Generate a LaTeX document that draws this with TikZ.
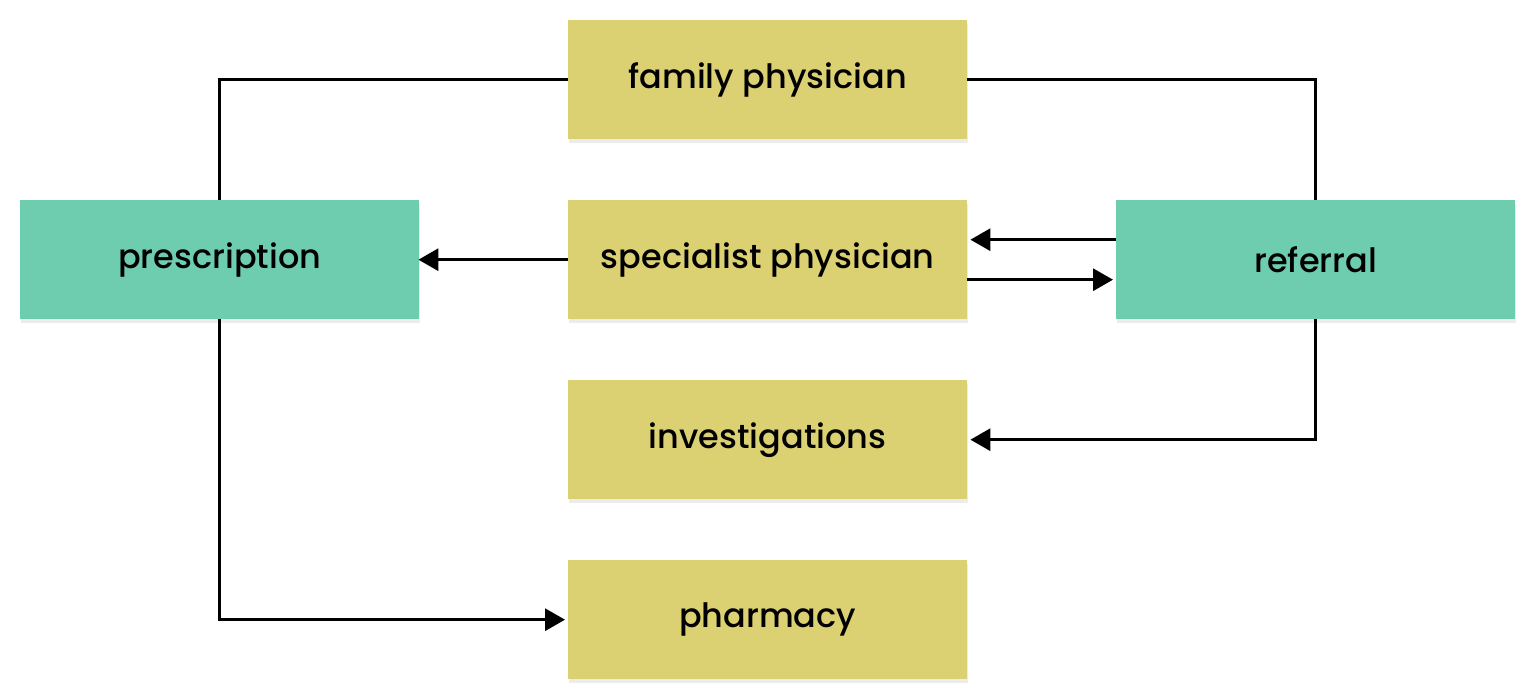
\documentclass[tikz,border=0pt]{standalone}
\usepackage{fontspec}
\setmainfont{Poppins}[UprightFont=* Medium]
\usetikzlibrary{arrows.meta,shadows,positioning}
\definecolor{ybox}{HTML}{DBD072}
\definecolor{tbox}{HTML}{6ECDAF}
\tikzset{
  box/.style={minimum width=399pt,minimum height=119pt,inner sep=0pt,anchor=north west,
    font=\fontsize{33.5}{40}\selectfont,
    drop shadow={opacity=0.15,shadow xshift=1pt,shadow yshift=-4pt}},
  ybox/.style={box,fill=ybox},
  tbox/.style={box,fill=tbox},
  conn/.style={line width=3.2pt},
  arr/.style={conn,-{Triangle[length=20pt,width=22pt]}},
}
\begin{document}
\begin{tikzpicture}[x=1pt,y=-1pt]
\useasboundingbox (0,0) rectangle (1540,700);
\node[ybox] (fam) at (568,20) {family physician};
\node[ybox] (spec) at (568,200) {specialist physician};
\node[ybox] (inv) at (568,380) {investigations};
\node[ybox] (pha) at (568,560) {pharmacy};
\node[tbox] (pre) at (20,200) {prescription};
\node[tbox] (ref) at (1116,200) {referral};
\draw[conn] (fam.west) -| (pre.north);
\draw[conn] (fam.east) -| (ref.north);
\draw[arr] (spec.west) -- ([xshift=-1pt]pre.east);
\draw[arr] ([yshift=20pt]ref.west) -- ([xshift=3pt,yshift=20pt]spec.east);
\draw[arr] ([yshift=-20pt]spec.east) -- ([xshift=-3pt,yshift=-20pt]ref.west);
\draw[arr] (ref.south) |- ([xshift=3pt]inv.east);
\draw[arr] (pre.south) |- ([xshift=-3pt]pha.west);
\end{tikzpicture}
\end{document}
